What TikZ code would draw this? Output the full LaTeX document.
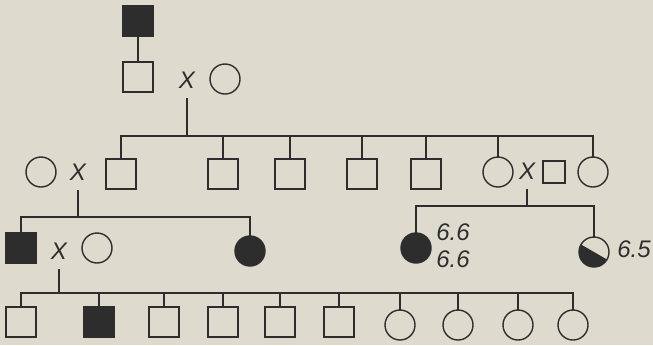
\documentclass[tikz,border=0pt]{standalone}
\usepackage{fontspec}
\setsansfont{Liberation Sans}
\usepackage{tikz}
\definecolor{paper}{RGB}{222,219,206}
\definecolor{ink}{RGB}{45,45,45}
\tikzset{
  male/.style={rectangle, draw=ink, line width=0.7pt, minimum size=15pt,
               inner sep=0pt, outer sep=0pt},
  female/.style={circle, draw=ink, line width=0.7pt, minimum size=15pt,
                 inner sep=0pt, outer sep=0pt},
  affmale/.style={male, fill=ink},
  afffemale/.style={female, fill=ink},
  cross/.style={inner sep=0pt, minimum height=18pt, text=ink,
                font=\sffamily\itshape\fontsize{12}{12}\selectfont},
  value/.style={inner sep=0pt, text=ink,
                font=\sffamily\itshape\fontsize{12}{12}\selectfont},
  line/.style={draw=ink, line width=0.7pt},
}

\begin{document}
\begin{tikzpicture}[x=0.5pt, y=-0.5pt]
  \fill[paper] (0,0) rectangle (653,345);
  \useasboundingbox (0,0) rectangle (653,345);

  % generation I and II
  \node[affmale] (a1) at (138,21) {};
  \node[male] (b1) at (138,77) {};
  \node[cross] (x2) at (187,80) {X};
  \node[female] (b2) at (225,79) {};
  \coordinate (s2) at (0,136);

  % generation III
  \node[female] (c0) at (41,172) {};
  \node[cross] (x3a) at (78,172) {X};
  \node[male] (c1) at (121,174) {};
  \node[male] (c2) at (223,174) {};
  \node[male] (c3) at (290,174) {};
  \node[male] (c4) at (362,174) {};
  \node[male] (c5) at (426,174) {};
  \node[female] (c6) at (498,172) {};
  \node[cross] (x3b) at (527,171) {X};
  \node[male, minimum size=11pt] (c7) at (554,172) {};
  \node[female] (c8) at (593,172) {};
  \coordinate (s3a) at (0,217);
  \coordinate (s3b) at (0,206);

  % generation IV
  \node[affmale] (d1) at (21,248) {};
  \node[cross] (x4) at (59,251) {X};
  \node[female] (d2) at (97,248) {};
  \node[afffemale] (d3) at (250,251) {};
  \node[afffemale] (d4) at (416,248) {};
  \node[value] (v1) at (453,232) {6.6};
  \node[value] (v2) at (453,259) {6.6};
  \node[female] (d5) at (594,252) {};
  \fill[ink] (d5.150) \foreach \a in {160,170,...,330} {-- (d5.\a)} -- cycle;
  \node[value] (v3) at (634,249) {6.5};
  \coordinate (s4) at (0,293);

  % generation V
  \node[male] (e1) at (21,322) {};
  \node[affmale] (e2) at (99,322) {};
  \node[male] (e3) at (164,322) {};
  \node[male] (e4) at (223,322) {};
  \node[male] (e5) at (280,322) {};
  \node[male] (e6) at (339,322) {};
  \node[female] (e7) at (400,325) {};
  \node[female] (e8) at (458,325) {};
  \node[female] (e9) at (518,325) {};
  \node[female] (e10) at (573,325) {};

  % lines of descent
  \draw[line] (a1) -- (b1);
  \draw[line] (x2.south) -- (x2.south |- s2);
  \draw[line] (c1.north) |- (s2 -| c8) -- (c8.north);
  \foreach \c in {c2,c3,c4,c5,c6}
    \draw[line] (\c.north) -- (\c.north |- s2);

  \draw[line] (x3a.south) -- (x3a.south |- s3a);
  \draw[line] (d1.north) |- (s3a -| d3) -- (d3.north);
  \draw[line] (x3b.south) -- (x3b.south |- s3b);
  \draw[line] (d4.north) |- (s3b -| d5) -- (d5.north);

  \draw[line] (x4.south) -- (x4.south |- s4);
  \draw[line] (e1.north) |- (s4 -| e10) -- (e10.north);
  \foreach \c in {e2,e3,e4,e5,e6,e7,e8,e9}
    \draw[line] (\c.north) -- (\c.north |- s4);
\end{tikzpicture}
\end{document}
